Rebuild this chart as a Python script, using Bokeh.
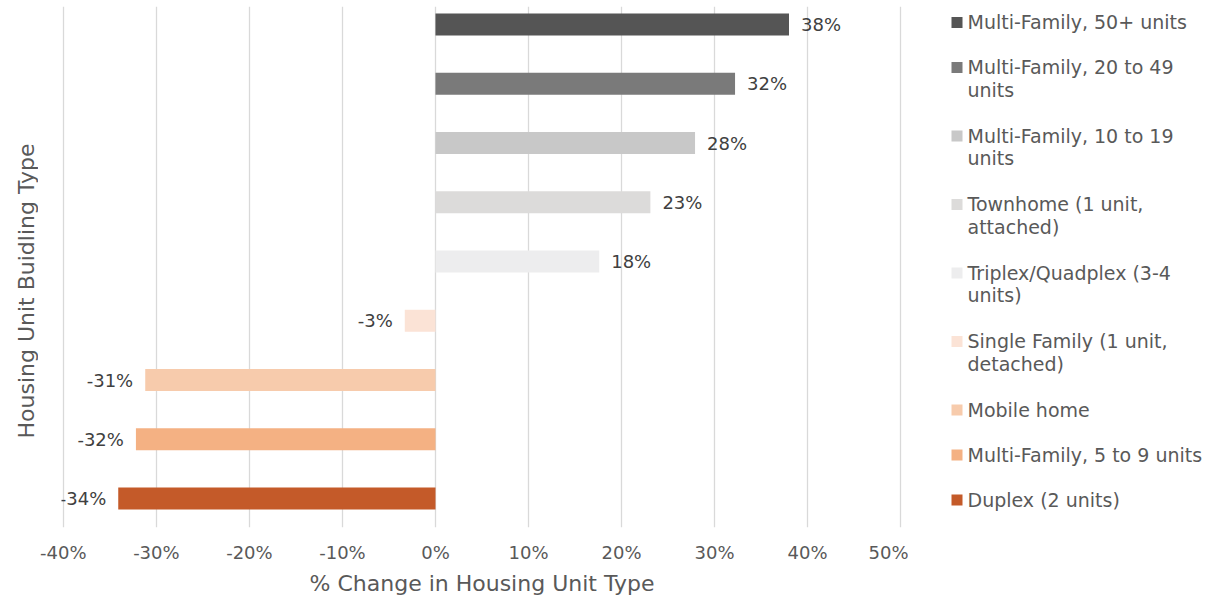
from bokeh.plotting import figure
from bokeh.models import Range1d, FixedTicker, ColumnDataSource, PrintfTickFormatter
from bokeh.layouts import row
from bokeh.core.properties import value
from bokeh.embed import file_html
from bokeh.resources import INLINE
import math

# ---- data (top to bottom) ----
categories = [
    "Multi-Family, 50+ units",
    "Multi-Family, 20 to 49 units",
    "Multi-Family, 10 to 19 units",
    "Townhome (1 unit, attached)",
    "Triplex/Quadplex (3-4 units)",
    "Single Family (1 unit, detached)",
    "Mobile home",
    "Multi-Family, 5 to 9 units",
    "Duplex (2 units)",
]
legend_labels = [
    "Multi-Family, 50+ units",
    "Multi-Family, 20 to 49\nunits",
    "Multi-Family, 10 to 19\nunits",
    "Townhome (1 unit,\nattached)",
    "Triplex/Quadplex (3-4\nunits)",
    "Single Family (1 unit,\ndetached)",
    "Mobile home",
    "Multi-Family, 5 to 9 units",
    "Duplex (2 units)",
]
pct_change = [38.0, 32.2, 27.9, 23.1, 17.6, -3.3, -31.2, -32.2, -34.1]
colors = ["#555555", "#7a7a7a", "#c8c8c8", "#dcdbda", "#ededee",
          "#fbe3d6", "#f7cbac", "#f4b183", "#c45a29"]
x_ticks = [-40, -30, -20, -10, 0, 10, 20, 30, 40, 50]
x_title = "% Change in Housing Unit Type"
y_title = "Housing Unit Buidling Type"

FONT_NAME = "DejaVu Sans"
FONT = value(FONT_NAME)
GRAY = "#595959"
H = 598
TW = 38                      # width of the y-title strip
FRAME_LEFT = 61
FRAME_TOP, FRAME_BOTTOM = 6, 527

n = len(categories)
pos = [n - 1 - i for i in range(n)]
labels = [f"{round(v)}%" for v in pct_change]

src = ColumnDataSource(dict(pos=pos, val=pct_change, color=colors, lab=labels, cat=categories))
pos_idx = [i for i, v in enumerate(pct_change) if v >= 0]
neg_idx = [i for i, v in enumerate(pct_change) if v < 0]
src_pos = ColumnDataSource(dict(pos=[pos[i] for i in pos_idx], val=[pct_change[i] for i in pos_idx],
                                lab=[labels[i] for i in pos_idx]))
src_neg = ColumnDataSource(dict(pos=[pos[i] for i in neg_idx], val=[pct_change[i] for i in neg_idx],
                                lab=[labels[i] for i in neg_idx]))

# ---- y-title strip (frame shares the main frame's top/bottom) ----
t = figure(width=TW, height=H, output_backend="svg", toolbar_location=None,
           x_range=Range1d(0, TW), y_range=Range1d(FRAME_BOTTOM, FRAME_TOP),
           x_axis_type=None, y_axis_type=None,
           min_border_left=0, min_border_right=0,
           min_border_top=FRAME_TOP, min_border_bottom=H - FRAME_BOTTOM)
t.outline_line_color = None
t.grid.visible = False
t.text(x=[25.5], y=[290.5], text=[y_title], angle=math.pi / 2, text_align="center",
       text_baseline="middle", text_font=FONT, text_font_size="22px", text_color=GRAY)

# ---- main chart ----
p = figure(width=908 - TW, height=H, output_backend="svg", toolbar_location=None,
           x_range=Range1d(-40.2, 50.2), y_range=Range1d(-0.489, 8.304),
           min_border_left=FRAME_LEFT - TW, min_border_right=6, min_border_top=FRAME_TOP,
           min_border_bottom=H - FRAME_BOTTOM)
p.outline_line_color = None
p.ygrid.visible = False
p.xgrid.grid_line_color = "#d9d9d9"
p.xgrid.grid_line_width = 1.3

p.xaxis.ticker = FixedTicker(ticks=x_ticks)
p.xaxis.formatter = PrintfTickFormatter(format="%d%%")
p.xaxis.axis_line_color = None
p.xaxis.major_tick_line_color = None
p.xaxis.minor_tick_line_color = None
p.xaxis.major_tick_out = 0
p.xaxis.major_tick_in = 0
p.xaxis.minor_tick_out = 0
p.xaxis.major_label_text_font = FONT_NAME
p.xaxis.major_label_text_font_size = "18px"
p.xaxis.major_label_text_color = GRAY
p.xaxis.major_label_standoff = 14
p.xaxis.axis_label = x_title
p.xaxis.axis_label_text_font = FONT_NAME
p.xaxis.axis_label_text_font_size = "22px"
p.xaxis.axis_label_text_font_style = "normal"
p.xaxis.axis_label_text_color = GRAY
p.xaxis.axis_label_standoff = 5

p.yaxis.visible = False

p.hbar(y="pos", left=0, right="val", height=0.371, color="color", source=src, line_color=None)

p.text(x="val", y="pos", text="lab", source=src_pos, x_offset=12, text_align="left",
       text_baseline="middle", text_font=FONT, text_font_size="18px", text_color="#404040")
p.text(x="val", y="pos", text="lab", source=src_neg, x_offset=-12, text_align="right",
       text_baseline="middle", text_font=FONT, text_font_size="18px", text_color="#404040")

# ---- legend panel (frame shares the main frame's top/bottom) ----
QX0, QW = 908, 306
q = figure(width=QW, height=H, output_backend="svg", toolbar_location=None,
           x_range=Range1d(QX0, QX0 + QW), y_range=Range1d(FRAME_BOTTOM, FRAME_TOP),
           x_axis_type=None, y_axis_type=None,
           min_border_left=0, min_border_right=0,
           min_border_top=FRAME_TOP, min_border_bottom=H - FRAME_BOTTOM)
q.outline_line_color = None
q.grid.visible = False

ly = []
y = 22
for lab in legend_labels:
    ly.append(y)
    y += 45 + 23.5 * lab.count("\n")
lsrc = ColumnDataSource(dict(y=ly, lab=legend_labels, color=colors,
                             x=[956.5] * n, tx=[967] * n, ty=[v - 11.5 for v in ly]))
q.scatter(x="x", y="y", marker="square", size=11, color="color", line_color=None, source=lsrc)
q.text(x="tx", y="ty", text="lab", source=lsrc, text_align="left", text_baseline="top",
       text_font=FONT, text_font_size="19px", text_color=GRAY, text_line_height=1.04)

layout = row(t, p, q)
open("out.html", "w").write(file_html(layout, INLINE))
